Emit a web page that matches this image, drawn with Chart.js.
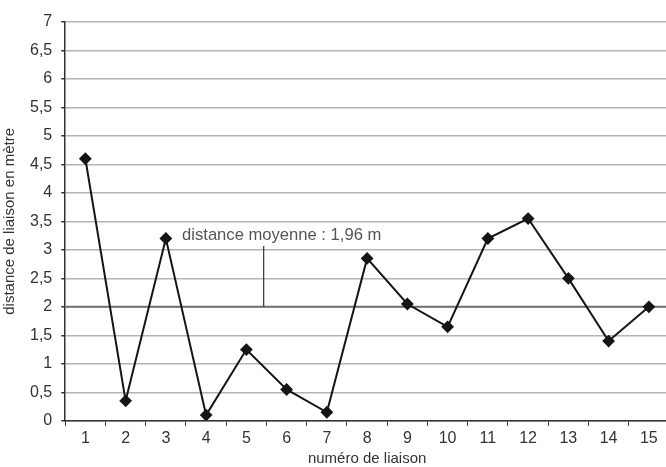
<!DOCTYPE html>
<html>
<head>
<meta charset="utf-8">
<script src="https://cdn.jsdelivr.net/npm/chart.js@4/dist/chart.umd.min.js"></script>
<style>
  html, body { margin: 0; padding: 0; background: #fff; overflow: hidden; }
  #wrap { width: 676px; height: 467px; position: relative; }
</style>
</head>
<body>
<div id="wrap"><canvas id="chart"></canvas></div>
<script>
// data
var liaisons = ['1','2','3','4','5','6','7','8','9','10','11','12','13','14','15'];
var distances = [4.6, 0.35, 3.2, 0.1, 1.25, 0.55, 0.15, 2.85, 2.05, 1.65, 3.2, 3.55, 2.5, 1.4, 2.0];
var meanLevel = 2;
var meanLabel = 'distance moyenne : 1,96 m';
// where the callout sits, in axis units (category index, metres)
var calloutX = 4.43;
var calloutTop = 3.07;
var calloutTextY = 3.25;

var fontName = '"Liberation Sans", Arial, sans-serif';

// draws the mean line and its callout through the scales
var meanPlugin = {
    id: 'meanLine',
    beforeDatasetsDraw: function(chart){
        var ctx = chart.ctx;
        var xs = chart.scales.x;
        var ys = chart.scales.y;
        var area = chart.chartArea;
        var y = ys.getPixelForValue(meanLevel);
        ctx.save();
        ctx.strokeStyle = '#707070';
        ctx.lineWidth = 2;
        ctx.beginPath();
        ctx.moveTo(area.left, y);
        ctx.lineTo(area.right, y);
        ctx.stroke();

        var x = xs.getPixelForValue(calloutX);
        ctx.strokeStyle = '#333';
        ctx.lineWidth = 1.2;
        ctx.beginPath();
        ctx.moveTo(x, y);
        ctx.lineTo(x, ys.getPixelForValue(calloutTop));
        ctx.stroke();

        ctx.fillStyle = '#555';
        ctx.font = '16.6px ' + fontName;
        ctx.textAlign = 'center';
        ctx.textBaseline = 'middle';
        ctx.fillText(meanLabel, x + 18, ys.getPixelForValue(calloutTextY));
        ctx.restore();
    }
};

var ctx = document.getElementById('chart').getContext('2d');
var chart = new Chart(ctx, {
    type: 'line',
    data: {
        labels: liaisons,
        datasets: [{
            label: 'distance',
            data: distances,
            borderColor: '#151515',
            backgroundColor: '#151515',
            borderWidth: 2,
            pointStyle: 'rectRot',
            pointRadius: 5,
            pointHoverRadius: 5,
            fill: false,
            tension: 0
        }]
    },
    options: {
        responsive: true,
        maintainAspectRatio: false,
        animation: false,
        layout: { padding: { top: 22, right: 0, left: 1, bottom: 1 } },
        plugins: {
            legend: { display: false },
            tooltip: { enabled: false }
        },
        scales: {
            x: {
                offset: true,
                grid: {
                    offset: true,
                    drawOnChartArea: false,
                    drawTicks: true,
                    tickLength: 5,
                    color: '#333'
                },
                border: { color: '#333', width: 1.5 },
                ticks: {
                    color: '#333',
                    font: { family: fontName, size: 16 },
                    padding: 3,
                    maxRotation: 0
                },
                title: {
                    display: true,
                    text: 'numéro de liaison',
                    color: '#333',
                    font: { family: fontName, size: 15, lineHeight: 1 },
                    padding: { top: 0, bottom: 0 }
                }
            },
            y: {
                min: 0,
                max: 7,
                grid: {
                    color: '#b4b4b4',
                    lineWidth: 1.5,
                    tickLength: 4,
                    tickColor: '#333'
                },
                border: { color: '#333', width: 1.5 },
                ticks: {
                    stepSize: 0.5,
                    color: '#333',
                    font: { family: fontName, size: 16 },
                    padding: 9,
                    callback: function(v){ return String(v).replace('.', ','); }
                },
                title: {
                    display: true,
                    text: 'distance de liaison en mètre',
                    color: '#333',
                    font: { family: fontName, size: 15 },
                    padding: { top: 0, bottom: 2 }
                }
            }
        }
    },
    plugins: [meanPlugin]
});
</script>
</body>
</html>
